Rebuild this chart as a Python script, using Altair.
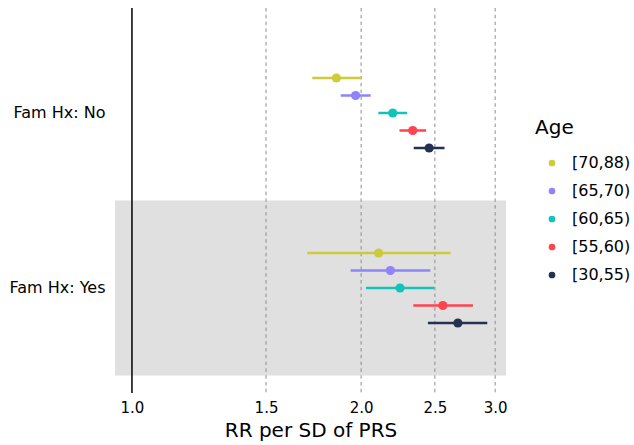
import altair as alt
import pandas as pd

groups = ["Fam Hx: No"] * 5 + ["Fam Hx: Yes"] * 5
ages = ["[70,88)", "[65,70)", "[60,65)", "[55,60)", "[30,55)"] * 2
rr = [1.856, 1.967, 2.201, 2.338, 2.457, 2.109, 2.185, 2.250, 2.561, 2.680]
lo = [1.725, 1.880, 2.107, 2.246, 2.345, 1.699, 1.938, 2.030, 2.342, 2.448]
hi = [2.000, 2.059, 2.299, 2.435, 2.574, 2.622, 2.466, 2.495, 2.805, 2.929]

age_order = ["[70,88)", "[65,70)", "[60,65)", "[55,60)", "[30,55)"]
age_colors = ["#cccc3a", "#8f84fa", "#14c1bb", "#ff434f", "#253152"]
group_order = ["Fam Hx: No", "Fam Hx: Yes"]
grid_ticks = [1.5, 2.0, 2.5, 3.0]
axis_ticks = [1.0, 1.5, 2.0, 2.5, 3.0]

df = pd.DataFrame({"group": groups, "age": ages, "rr": rr, "lo": lo, "hi": hi})
bg = pd.DataFrame({"group": ["Fam Hx: Yes"]})
grid_df = pd.DataFrame({"v": grid_ticks})
ref_df = pd.DataFrame({"v": [1.0]})

xscale = alt.Scale(type="log", domain=[0.95, 3.1], nice=False, zero=False)
yscale = alt.Scale(domain=group_order, paddingInner=0, paddingOuter=0.1)
# spacer slots keep the five ages clustered in the middle of each band
yoff_domain = ["_s1", "_s2"] + age_order + ["_s3", "_s4"]
yoff_scale = alt.Scale(domain=yoff_domain, paddingInner=0, paddingOuter=0.5)
color_scale = alt.Scale(domain=age_order, range=age_colors)

y_enc = alt.Y("group:N", scale=yscale, sort=group_order,
              axis=alt.Axis(title=None, domain=False, ticks=False, labelFontSize=16,
                            labelColor="black", labelPadding=10, labelFont="DejaVu Sans"))

background = alt.Chart(bg).mark_rect(color="#e0e0e0").encode(
    y=y_enc,
    x=alt.value(0),
    x2=alt.value("width"),
)

grid = alt.Chart(grid_df).mark_rule(color="#8c8c8c", strokeDash=[3.5, 3.3], strokeWidth=1).encode(
    x=alt.X("v:Q", scale=xscale)
)

ref = alt.Chart(ref_df).mark_rule(color="black", strokeWidth=1.5).encode(
    x=alt.X("v:Q", scale=xscale)
)

base = alt.Chart(df).encode(
    y=y_enc,
    yOffset=alt.YOffset("age:N", scale=yoff_scale),
    color=alt.Color("age:N", scale=color_scale, sort=age_order,
                    legend=alt.Legend(title="Age", orient="none", legendX=420, legendY=110,
                                      titleFontSize=20, titleFontWeight="normal",
                                      titleColor="black", titleFont="DejaVu Sans",
                                      labelFontSize=16, labelColor="black",
                                      labelFont="DejaVu Sans",
                                      symbolType="circle", symbolSize=45,
                                      symbolStrokeWidth=0, rowPadding=12,
                                      titlePadding=17, labelOffset=12, symbolOffset=9)),
)

bars = base.mark_rule(strokeWidth=2.5).encode(
    x=alt.X("lo:Q", scale=xscale,
            axis=alt.Axis(values=axis_ticks, format=".1f", title="RR per SD of PRS",
                          grid=False, domain=False, ticks=False, labelFontSize=15,
                          labelColor="black", labelPadding=7, titleFontSize=20,
                          titleFontWeight="normal", titleColor="black", titlePadding=5,
                          labelFont="DejaVu Sans", titleFont="DejaVu Sans")),
    x2="hi:Q",
)

points = base.mark_circle(size=85, opacity=1).encode(
    x=alt.X("rr:Q", scale=xscale)
)

chart = alt.layer(background, grid, ref, bars, points).properties(
    width=391, height=385,
    autosize=alt.AutoSizeParams(type="none"),
    padding={"left": 115, "top": 8, "right": 128, "bottom": 52},
).configure_view(stroke=None)

chart.save("out.html", embed_options={"renderer": "svg", "actions": False})
